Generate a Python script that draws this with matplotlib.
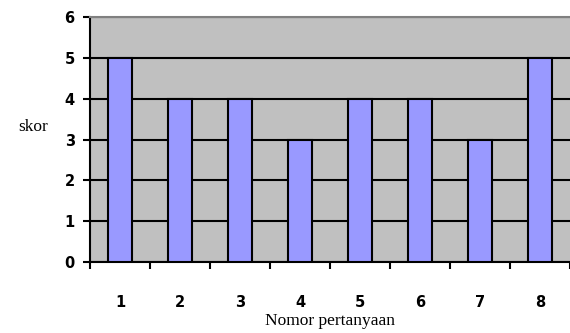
import numpy as np
import matplotlib
matplotlib.use('Agg')
import matplotlib.pyplot as plt

# data
pertanyaan = ['1', '2', '3', '4', '5', '6', '7', '8']
skor = [5, 4, 4, 3, 4, 4, 3, 5]
yticks = [0, 1, 2, 3, 4, 5, 6]

fig = plt.figure(figsize=(5.7, 3.33), dpi=100)
ax = fig.add_axes([90 / 570, 71 / 333, 480 / 570, 245 / 333])
ax.set_facecolor('#C0C0C0')

x = np.arange(len(pertanyaan))
ax.bar(x, skor, width=0.4, color='#9999FF', edgecolor='black', linewidth=1.5, zorder=3)

ax.set_xlim(-0.5, len(pertanyaan) - 0.5)
ax.set_ylim(0, 6)

# grid horizontal
ax.set_yticks(yticks)
ax.set_yticklabels([str(v) for v in yticks], fontweight='bold', fontsize=10.5, family='DejaVu Sans')
ax.yaxis.grid(True, color='black', linewidth=1.5, zorder=1)
ax.set_axisbelow(True)

# x ticks at boundaries, labels at centers
ax.set_xticks(np.arange(-0.5, len(pertanyaan) + 0.5, 1))
ax.set_xticklabels([])
ax.set_xticks(x, minor=True)
ax.set_xticklabels(pertanyaan, minor=True, fontweight='bold', fontsize=10.5, family='DejaVu Sans')
ax.tick_params(axis='x', which='minor', length=0, pad=24)
ax.tick_params(axis='x', which='major', length=5, width=1.5, direction='out')
ax.tick_params(axis='y', length=5, width=1.5, direction='out', pad=6)

for s in ['left', 'bottom']:
    ax.spines[s].set_linewidth(1.5)
    ax.spines[s].set_color('black')
ax.spines['top'].set_color('#808080')
ax.spines['top'].set_linewidth(1.5)
ax.spines['right'].set_visible(False)

ax.set_ylabel('skor', rotation=0, family='Liberation Serif', fontsize=12.5,
              ha='center', va='center')
ax.yaxis.set_label_coords(-0.119, 0.55)
ax.set_xlabel('Nomor pertanyaan', family='Liberation Serif', fontsize=12.5, labelpad=2)

plt.savefig('out.png', dpi=100)
